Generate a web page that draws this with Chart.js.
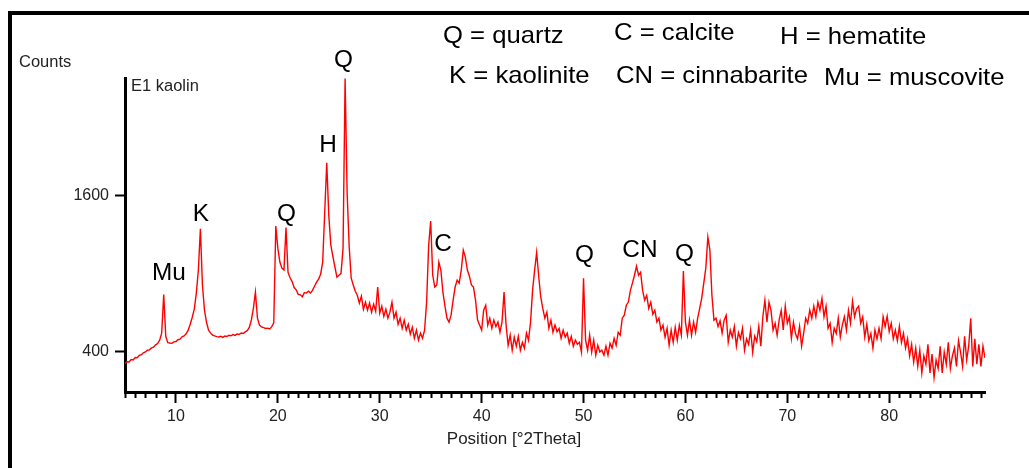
<!DOCTYPE html>
<html>
<head>
<meta charset="utf-8">
<title>E1 kaolin - XRD</title>
<script src="https://cdn.jsdelivr.net/npm/chart.js@4.4.1/dist/chart.umd.min.js"></script>
<style>
    html, body { margin: 0; padding: 0; background: #fff; }
    #xrd-chart-e1 { display: block; }
</style>
</head>
<body>
<canvas id="xrd-chart-e1" width="1029" height="468"></canvas>
<script>
/*
/----------------------------------------
/- data pattern E1 kaolin
/----------------------------------------
*/
const twoTheta = [
    5.0, 5.2, 5.4, 5.6, 5.8, 6.0, 6.2, 6.4, 6.6, 6.8,
    7.0, 7.2, 7.4, 7.6, 7.8, 8.0, 8.2, 8.4, 8.6, 8.8,
    9.0, 9.2, 9.4, 9.6, 9.8, 10.0, 10.2, 10.4, 10.6, 10.8,
    11.0, 11.2, 11.4, 11.6, 11.8, 12.0, 12.2, 12.4, 12.6, 12.8,
    13.0, 13.2, 13.4, 13.6, 13.8, 14.0, 14.2, 14.4, 14.6, 14.8,
    15.0, 15.2, 15.4, 15.6, 15.8, 16.0, 16.2, 16.4, 16.6, 16.8,
    17.0, 17.2, 17.4, 17.6, 17.8, 18.0, 18.2, 18.4, 18.6, 18.8,
    19.0, 19.2, 19.4, 19.6, 19.8, 20.0, 20.2, 20.4, 20.6, 20.8,
    21.0, 21.2, 21.4, 21.6, 21.8, 22.0, 22.2, 22.4, 22.6, 22.8,
    23.0, 23.2, 23.4, 23.6, 23.8, 24.0, 24.2, 24.4, 24.6, 24.8,
    25.0, 25.2, 25.4, 25.6, 25.8, 26.0, 26.2, 26.4, 26.6, 26.8,
    27.0, 27.2, 27.4, 27.6, 27.8, 28.0, 28.2, 28.4, 28.6, 28.8,
    29.0, 29.2, 29.4, 29.6, 29.8, 30.0, 30.2, 30.4, 30.6, 30.8,
    31.0, 31.2, 31.4, 31.6, 31.8, 32.0, 32.2, 32.4, 32.6, 32.8,
    33.0, 33.2, 33.4, 33.6, 33.8, 34.0, 34.2, 34.4, 34.6, 34.8,
    35.0, 35.2, 35.4, 35.6, 35.8, 36.0, 36.2, 36.4, 36.6, 36.8,
    37.0, 37.2, 37.4, 37.6, 37.8, 38.0, 38.2, 38.4, 38.6, 38.8,
    39.0, 39.2, 39.4, 39.6, 39.8, 40.0, 40.2, 40.4, 40.6, 40.8,
    41.0, 41.2, 41.4, 41.6, 41.8, 42.0, 42.2, 42.4, 42.6, 42.8,
    43.0, 43.2, 43.4, 43.6, 43.8, 44.0, 44.2, 44.4, 44.6, 44.8,
    45.0, 45.2, 45.4, 45.6, 45.8, 46.0, 46.2, 46.4, 46.6, 46.8,
    47.0, 47.2, 47.4, 47.6, 47.8, 48.0, 48.2, 48.4, 48.6, 48.8,
    49.0, 49.2, 49.4, 49.6, 49.8, 50.0, 50.2, 50.4, 50.6, 50.8,
    51.0, 51.2, 51.4, 51.6, 51.8, 52.0, 52.2, 52.4, 52.6, 52.8,
    53.0, 53.2, 53.4, 53.6, 53.8, 54.0, 54.2, 54.4, 54.6, 54.8,
    55.0, 55.2, 55.4, 55.6, 55.8, 56.0, 56.2, 56.4, 56.6, 56.8,
    57.0, 57.2, 57.4, 57.6, 57.8, 58.0, 58.2, 58.4, 58.6, 58.8,
    59.0, 59.2, 59.4, 59.6, 59.8, 60.0, 60.2, 60.4, 60.6, 60.8,
    61.0, 61.2, 61.4, 61.6, 61.8, 62.0, 62.2, 62.4, 62.6, 62.8,
    63.0, 63.2, 63.4, 63.6, 63.8, 64.0, 64.2, 64.4, 64.6, 64.8,
    65.0, 65.2, 65.4, 65.6, 65.8, 66.0, 66.2, 66.4, 66.6, 66.8,
    67.0, 67.2, 67.4, 67.6, 67.8, 68.0, 68.2, 68.4, 68.6, 68.8,
    69.0, 69.2, 69.4, 69.6, 69.8, 70.0, 70.2, 70.4, 70.6, 70.8,
    71.0, 71.2, 71.4, 71.6, 71.8, 72.0, 72.2, 72.4, 72.6, 72.8,
    73.0, 73.2, 73.4, 73.6, 73.8, 74.0, 74.2, 74.4, 74.6, 74.8,
    75.0, 75.2, 75.4, 75.6, 75.8, 76.0, 76.2, 76.4, 76.6, 76.8,
    77.0, 77.2, 77.4, 77.6, 77.8, 78.0, 78.2, 78.4, 78.6, 78.8,
    79.0, 79.2, 79.4, 79.6, 79.8, 80.0, 80.2, 80.4, 80.6, 80.8,
    81.0, 81.2, 81.4, 81.6, 81.8, 82.0, 82.2, 82.4, 82.6, 82.8,
    83.0, 83.2, 83.4, 83.6, 83.8, 84.0, 84.2, 84.4, 84.6, 84.8,
    85.0, 85.2, 85.4, 85.6, 85.8, 86.0, 86.2, 86.4, 86.6, 86.8,
    87.0, 87.2, 87.4, 87.6, 87.8, 88.0, 88.2, 88.4, 88.6, 88.8,
    89.0, 89.2, 89.4,
];
const counts = [
    345, 352, 351, 362, 360, 372, 371, 383, 386, 396,
    400, 409, 411, 421, 425, 437, 444, 463, 502, 747,
    484, 449, 447, 446, 453, 455, 465, 468, 481, 486,
    498, 519, 554, 597, 648, 757, 927, 1275, 815, 642,
    566, 519, 502, 491, 486, 482, 480, 484, 478, 486,
    483, 490, 487, 494, 489, 497, 494, 503, 500, 509,
    516, 535, 580, 654, 764, 591, 549, 538, 534, 529,
    531, 526, 540, 562, 1300, 1105, 990, 942, 927, 1287,
    910, 868, 840, 796, 780, 748, 745, 731, 760, 758,
    770, 757, 776, 806, 836, 858, 895, 990, 1430, 1948,
    1400, 1130, 1037, 951, 873, 887, 902, 1105, 3012, 1621,
    1120, 865, 815, 770, 742, 688, 735, 648, 694, 642,
    688, 629, 681, 635, 800, 623, 668, 603, 648, 591,
    629, 694, 591, 629, 554, 591, 530, 579, 519, 554,
    496, 536, 473, 519, 463, 502, 473, 519, 694, 1130,
    1346, 887, 800, 815, 990, 927, 763, 668, 591, 567,
    610, 708, 800, 851, 828, 927, 1088, 1030, 927, 880,
    815, 800, 708, 579, 549, 519, 642, 674, 549, 591,
    530, 579, 540, 567, 507, 567, 764, 549, 435, 491,
    409, 479, 430, 484, 409, 450, 419, 502, 463, 567,
    778, 927, 1068, 880, 730, 653, 591, 629, 530, 579,
    507, 549, 510, 530, 473, 519, 480, 502, 446, 484,
    430, 463, 440, 451, 399, 865, 463, 409, 491, 399,
    463, 384, 435, 400, 409, 384, 430, 384, 446, 420,
    473, 435, 507, 491, 591, 610, 674, 695, 776, 828,
    887, 958, 887, 910, 776, 708, 742, 653, 695, 616,
    642, 567, 591, 519, 549, 479, 530, 435, 519, 451,
    536, 463, 549, 491, 919, 567, 491, 579, 491, 567,
    507, 591, 653, 722, 828, 942, 1200, 1088, 742, 579,
    591, 540, 575, 502, 579, 610, 451, 519, 480, 540,
    430, 505, 470, 530, 409, 470, 440, 520, 399, 485,
    455, 542, 430, 600, 708, 566, 694, 640, 519, 560,
    490, 580, 640, 520, 668, 560, 600, 473, 566, 500,
    470, 542, 430, 500, 591, 560, 642, 590, 668, 600,
    694, 640, 720, 600, 668, 530, 560, 450, 530, 500,
    591, 480, 550, 600, 520, 640, 560, 700, 600, 650,
    668, 560, 600, 480, 554, 460, 500, 420, 520, 470,
    530, 470, 600, 540, 603, 510, 560, 470, 520, 460,
    542, 450, 500, 420, 470, 380, 440, 350, 420, 330,
    410, 300, 380, 340, 440, 300, 390, 280, 360, 320,
    430, 300, 400, 340, 451, 320, 380, 420, 330, 460,
    400, 330, 484, 360, 430, 591, 330, 470, 340, 440,
    330, 430, 370,
];

// axis ticks
const xTickValues = [10, 20, 30, 40, 50, 60, 70, 80];
const yTickValues = [400, 1600];

// phase marks above the peaks
const peakLabels = ["Mu", "K", "Q", "H", "Q", "C", "Q", "CN", "Q"];
const peakLabelTheta = [9.31, 12.45, 20.85, 24.93, 26.44, 36.21, 50.1, 55.54, 59.9];
const peakLabelCounts = [901, 1410, 1408, 2146, 3262, 1139, 1042, 1080, 1047];

// phase key
const phaseKeyRow1 = ["Q = quartz", "C = calcite", "H = hematite"];
const phaseKeyRow2 = ["K = kaolinite", "CN = cinnabarite", "Mu = muscovite"];

/*
/----------------------------------------
/- layout / style
/----------------------------------------
*/
const FONT = "'Liberation Sans', Arial, Helvetica, sans-serif";
const TEXT_COLOR = "#222";
const keyRow1Pos = [[443, 43], [614, 40], [780, 44]];
const keyRow2Pos = [[449, 83], [616, 83], [824, 85]];

// square-root count axis (XRD style)
class SqrtScale extends Chart.LinearScale {
    getPixelForValue(value) {
        const lo = Math.sqrt(this.min);
        const hi = Math.sqrt(this.max);
        return this.getPixelForDecimal((Math.sqrt(Math.max(value, 0)) - lo) / (hi - lo));
    }
    getValueForPixel(pixel) {
        const lo = Math.sqrt(this.min);
        const hi = Math.sqrt(this.max);
        const s = lo + this.getDecimalForPixel(pixel) * (hi - lo);
        return s * s;
    }
}
SqrtScale.id = "sqrt";
SqrtScale.defaults = Chart.LinearScale.defaults;
Chart.register(SqrtScale);

function stretchedText(ctx, text, x, y, size, stretch, align) {
    ctx.save();
    ctx.font = `${size}px ${FONT}`;
    ctx.textAlign = align || "left";
    ctx.translate(x, y);
    ctx.scale(stretch, 1);
    ctx.fillText(text, 0, 0);
    ctx.restore();
}

// frame, texts, minor ticks, peak labels
const xrdDecorPlugin = {
    id: "xrdDecor",
    beforeDraw(chart) {
        const ctx = chart.ctx;
        ctx.save();
        ctx.fillStyle = "#000";
        ctx.fillRect(8, 11, chart.width - 8, 4);
        ctx.fillRect(8, 11, 4, chart.height - 11);
        ctx.restore();
    },
    afterDraw(chart) {
        const ctx = chart.ctx;
        const xs = chart.scales.x;
        const ys = chart.scales.y;
        const bottom = chart.chartArea.bottom;

        // minor ticks every 1 degree
        ctx.save();
        ctx.strokeStyle = "#000";
        ctx.lineWidth = 2;
        ctx.beginPath();
        for (let v = Math.ceil(xs.min); v <= Math.floor(xs.max); v++) {
            if (v % 10 === 0) continue;
            const px = Math.round(xs.getPixelForValue(v)) + 0.5;
            ctx.moveTo(px, bottom);
            ctx.lineTo(px, bottom + 6);
        }
        ctx.stroke();
        ctx.restore();

        ctx.save();
        ctx.fillStyle = TEXT_COLOR;
        ctx.textBaseline = "alphabetic";
        stretchedText(ctx, "Counts", 19, 67, 16, 1.03);
        stretchedText(ctx, "E1 kaolin", 131, 91, 16, 1.03);
        stretchedText(ctx, "Position [°2Theta]", 514, 444, 17, 1.0, "center");

        ctx.fillStyle = "#000";
        phaseKeyRow1.forEach((t, i) => stretchedText(ctx, t, keyRow1Pos[i][0], keyRow1Pos[i][1], 24, 1.07));
        phaseKeyRow2.forEach((t, i) => stretchedText(ctx, t, keyRow2Pos[i][0], keyRow2Pos[i][1], 24, 1.07));

        ctx.textBaseline = "middle";
        peakLabels.forEach((t, i) => {
            const px = xs.getPixelForValue(peakLabelTheta[i]);
            const py = ys.getPixelForValue(peakLabelCounts[i]);
            stretchedText(ctx, t, px, py, 23, 1.06, "center");
        });
        ctx.restore();
    },
};

/*
/----------------------------------------
/- chart config
/----------------------------------------
*/
const dataXrd = {
    datasets: [
        {
            label: "E1 kaolin",
            data: twoTheta.map((t, i) => ({ x: t, y: counts[i] })),
            borderColor: "rgb(255,0,0)",
            borderWidth: 1.4,
            pointRadius: 0,
            fill: false,
            tension: 0,
        },
    ],
};

const configXrd = {
    type: "line",
    data: dataXrd,
    options: {
        responsive: false,
        animation: false,
        layout: {
            padding: { left: 65, right: 44, top: 78, bottom: 36 },
        },
        plugins: {
            legend: { display: false },
            tooltip: { enabled: false },
        },
        scales: {
            x: {
                type: "linear",
                min: 5,
                max: 89.4,
                afterBuildTicks: (scale) => {
                    scale.ticks = xTickValues.map((v) => ({ value: v }));
                },
                afterFit: (scale) => {
                    scale.height = 40;
                },
                border: { display: true, color: "#000", width: 3 },
                grid: {
                    drawOnChartArea: false,
                    drawTicks: true,
                    tickLength: 11,
                    tickWidth: 2,
                    tickColor: "#000",
                },
                ticks: {
                    padding: 4,
                    maxRotation: 0,
                    color: TEXT_COLOR,
                    font: { family: FONT, size: 16 },
                    callback: (value) => `${value}`,
                },
            },
            y: {
                type: "sqrt",
                min: 222,
                max: 3018,
                afterBuildTicks: (scale) => {
                    scale.ticks = yTickValues.map((v) => ({ value: v }));
                },
                afterFit: (scale) => {
                    scale.width = 60;
                },
                border: { display: true, color: "#000", width: 3 },
                grid: {
                    drawOnChartArea: false,
                    drawTicks: true,
                    tickLength: 10,
                    tickWidth: 2,
                    tickColor: "#000",
                },
                ticks: {
                    padding: 6,
                    color: TEXT_COLOR,
                    font: { family: FONT, size: 16 },
                    callback: (value) => `${value}`,
                },
            },
        },
    },
    plugins: [xrdDecorPlugin],
};

// render
const ctxXrd = document.getElementById("xrd-chart-e1");
new Chart(ctxXrd, configXrd);
</script>
</body>
</html>
